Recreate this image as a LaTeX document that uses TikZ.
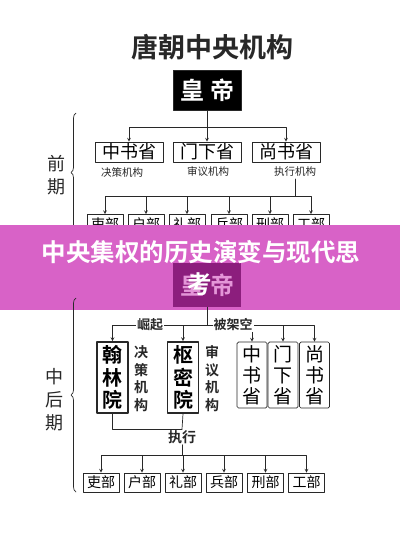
\documentclass[tikz,border=0pt]{standalone}
\usepackage{fontspec}
\setmainfont{Noto Sans CJK SC}[BoldFont={Noto Sans CJK SC Bold}]
\usetikzlibrary{decorations.pathreplacing}
\definecolor{banner}{RGB}{216,98,199}
\definecolor{empdim}{RGB}{140,30,125}
\definecolor{empdimtext}{RGB}{228,150,216}
\definecolor{ink}{RGB}{40,40,40}
\begin{document}
\begin{tikzpicture}[x=1pt,y=-1pt,line join=round,line cap=round,>=stealth,
  thin line/.style={draw=ink,line width=0.7pt},
  bureau/.style={thin line,rectangle,inner sep=0pt,minimum width=68,minimum height=20,font=\fontsize{18}{18}\selectfont},
  board/.style={thin line,rectangle,inner sep=0pt,minimum width=36,minimum height=19,font=\fontsize{14}{14}\selectfont},
  tall/.style={draw=ink,line width=1.8pt,rectangle,inner sep=0pt,minimum width=31,minimum height=71,align=center,font=\bfseries\fontsize{20}{22.5}\selectfont},
  slim/.style={thin line,rectangle,rounded corners=1.5pt,inner sep=0pt,minimum width=30,minimum height=66,align=center,font=\fontsize{19}{21}\selectfont},
  role/.style={inner sep=1pt,align=center,font=\bfseries\fontsize{14}{17.5}\selectfont,text=ink},
  tag/.style={fill=white,inner sep=1pt,font=\bfseries\fontsize{13}{13}\selectfont,text=ink},
  period/.style={align=center,font=\fontsize{18}{23}\selectfont,text=ink},
  brace/.style={thin line,decorate,decoration={brace,amplitude=5pt}}]
\useasboundingbox (0,0) rectangle (400,533);
\fill[white] (0,0) rectangle (400,533);

% early period
\node[font=\bfseries\fontsize{27}{27}\selectfont,text=ink] (title) at (212,47) {唐朝中央机构};
\node[fill=black,draw=ink,minimum width=68,minimum height=40,inner sep=0pt,text=white,font=\bfseries\fontsize{24}{24}\selectfont] (emp) at (207,90) {皇\hspace{6pt}帝};

\node[bureau] (zs) at (129,152) {中书省};
\node[bureau] (mx) at (207,152) {门下省};
\node[bureau] (ss) at (286,152) {尚书省};
\node[font=\fontsize{10.5}{10.5}\selectfont,text=ink] (zsl) at (122,172) {决策机构};
\node[font=\fontsize{10.5}{10.5}\selectfont,text=ink] (mxl) at (208,172) {审议机构};
\node[font=\fontsize{10.5}{10.5}\selectfont,text=ink,inner sep=2pt] (ssl) at (295,172) {执行机构};

\coordinate (ej) at (207,127);
\draw[thin line] (emp.south) -- (ej);
\foreach \s in {zs,mx,ss} \draw[thin line,->] (ej) -| (\s.north);

\foreach \n/\x/\t in {1/105/吏部,2/146/户部,3/187/礼部,4/229/兵部,5/270/刑部,6/311/工部}
  \node[board] (ba\n) at (\x,224) {\t};
\coordinate (sj) at (295,196);
\draw[thin line] (ssl.south) -- (sj);
\foreach \n in {1,...,6} \draw[thin line,->] (sj) -| (ba\n.north);

\coordinate (ea) at (76,113);
\coordinate (eb) at (76,232);
\draw[brace] (eb) -- (ea);
\node[period] (early) at (56,175) {前\\期};

% banner
\fill[banner] (0,225) rectangle (400,310);
\node[fill=empdim,minimum width=68,minimum height=44,inner sep=0pt,text=empdimtext,font=\bfseries\fontsize{24}{24}\selectfont] (emp2) at (207,285) {皇\hspace{6pt}帝};
\node[text=white,font=\bfseries\fontsize{24.5}{24.5}\selectfont] (head1) at (201,252) {中央集权的历史演变与现代思};
\node[text=white,font=\bfseries\fontsize{24.5}{24.5}\selectfont] (head2) at (200,284) {考};

% middle and late period
\node[tall] (hl) at (112.5,377.5) {翰\\林\\院};
\node[tall] (sm) at (183,377.5) {枢\\密\\院};
\node[role] (hlr) at (141,378.5) {决\\策\\机\\构};
\node[role] (smr) at (212,378.5) {审\\议\\机\\构};
\node[slim] (zs2) at (252,375) {中\\书\\省};
\node[slim] (mx2) at (283,375) {门\\下\\省};
\node[slim] (ss2) at (314.5,375) {尚\\书\\省};

\coordinate (mj) at (207,325);
\draw[thin line] (emp2.south) -- (mj);
\foreach \s in {hl,sm,zs2,mx2,ss2} \draw[thin line,->] (mj) -| (\s.north);
\node[tag] (rise) at (150,325) {崛起};
\node[tag] (void) at (233,325) {被架空};

\node[role,font=\bfseries\fontsize{14}{14}\selectfont] (exec) at (182,437) {执行};
\draw[thin line] (hl.south) |- (exec.north);
\draw[thin line] (sm.south) -- (exec.north);

\foreach \n/\x/\t in {1/101/吏部,2/142/户部,3/183/礼部,4/224/兵部,5/265.5/刑部,6/306.5/工部}
  \node[board] (bb\n) at (\x,482.5) {\t};
\coordinate (xj) at (182,455);
\draw[thin line] (exec.south) -- (xj);
\foreach \n in {1,...,6} \draw[thin line,->] (xj) -| (bb\n.north);

\coordinate (la) at (76,298);
\coordinate (lb) at (76,492);
\draw[brace] (lb) -- (la);
\node[period] (late) at (54,400) {中\\后\\期};
\end{tikzpicture}
\end{document}
